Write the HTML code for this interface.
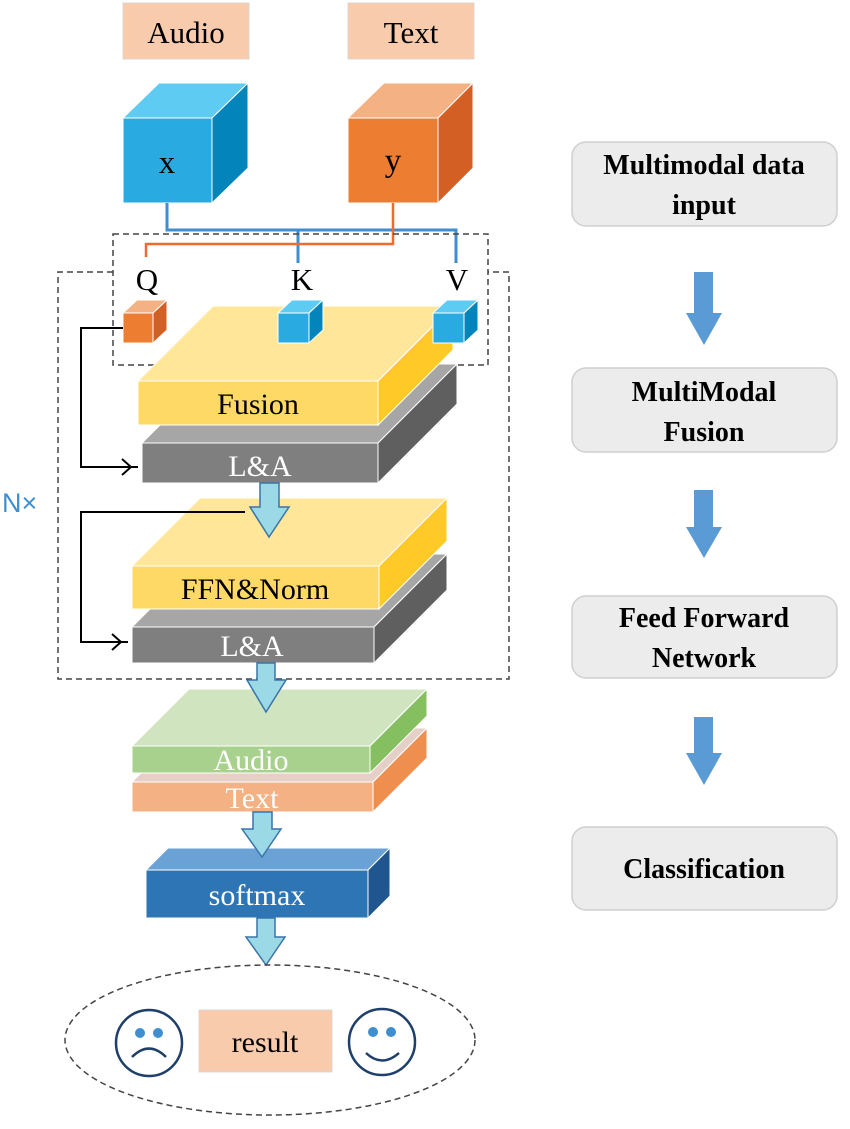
<!DOCTYPE html>
<html><head><meta charset="utf-8"><style>html,body{margin:0;padding:0;background:#fff}svg{display:block}</style></head><body>
<svg width="850" height="1129" viewBox="0 0 850 1129" xmlns="http://www.w3.org/2000/svg" font-family="Liberation Serif, serif">
<rect x="123" y="3" width="126" height="56" fill="#f8cbad" stroke="#e0d6d0"/>
<text x="186" y="43" font-size="31" text-anchor="middle">Audio</text>
<rect x="348" y="3" width="126" height="56" fill="#f8cbad" stroke="#e0d6d0"/>
<text x="411" y="43" font-size="31" text-anchor="middle">Text</text>

<g stroke="#fff" stroke-width="1">
<polygon points="123,118 159,83 248,83 212,118" fill="#5ecbf3"/>
<polygon points="212,118 248,83 248,168 212,203" fill="#0385bb"/>
<rect x="123" y="118" width="89" height="85" fill="#29abe2"/>
<polygon points="348,118 384,83 473,83 438,118" fill="#f4b183"/>
<polygon points="438,118 473,83 473,168 438,203" fill="#d35f24"/>
<rect x="348" y="118" width="90" height="85" fill="#ed7d31"/>
</g>
<text x="167" y="173" font-size="33" text-anchor="middle">x</text>
<text x="393" y="171" font-size="33" text-anchor="middle">y</text>

<polyline points="167,203 167,230 456,230 456,263" fill="none" stroke="#3e8ed0" stroke-width="3"/>
<line x1="298" y1="230" x2="298" y2="263" stroke="#3e8ed0" stroke-width="3"/>
<polyline points="393,203 393,244 146,244 146,257" fill="none" stroke="#ed6b2f" stroke-width="2.5"/>

<g fill="none" stroke="#444" stroke-width="1.5" stroke-dasharray="6,4">
<rect x="113" y="234" width="375" height="131"/>
<polyline points="113,272 58,272 58,679 509,679 509,272 488,272"/>
</g>
<text x="2" y="512" font-family="Liberation Sans, sans-serif" font-size="27" fill="#3e8ed0">N×</text>

<text x="147" y="290" font-size="31" text-anchor="middle">Q</text>
<text x="302" y="290" font-size="31" text-anchor="middle">K</text>
<text x="457" y="290" font-size="31" text-anchor="middle">V</text>

<g stroke="#fff" stroke-width="1">
<polygon points="142,443 221,364 457,364 378,443" fill="#a6a6a6"/>
<polygon points="378,443 457,364 457,404 378,483" fill="#5f5f5f"/>
<rect x="142" y="443" width="236" height="40" fill="#7f7f7f"/>
<polygon points="138,381 213,306 453,306 378,381" fill="#ffe699"/>
<polygon points="378,381 453,306 453,350 378,425" fill="#ffca28"/>
<rect x="138" y="381" width="240" height="44" fill="#ffd966"/>
<polygon points="123,313 137,300 167,300 153,313" fill="#f4b183"/>
<polygon points="153,313 167,300 167,330 153,343" fill="#d35f24"/>
<rect x="123" y="313" width="30" height="30" fill="#ed7d31"/>
<polygon points="278,313 292,300 323,300 309,313" fill="#5ecbf3"/>
<polygon points="309,313 323,300 323,330 309,343" fill="#0385bb"/>
<rect x="278" y="313" width="31" height="30" fill="#29abe2"/>
<polygon points="433,313 447,300 478,300 464,313" fill="#5ecbf3"/>
<polygon points="464,313 478,300 478,330 464,343" fill="#0385bb"/>
<rect x="433" y="313" width="31" height="30" fill="#29abe2"/>
</g>
<text x="258" y="414" font-size="30" text-anchor="middle">Fusion</text>
<text x="260" y="476" font-size="30" text-anchor="middle" fill="#fff">L&amp;A</text>

<polyline points="123,328 81,328 81,467 138,467" fill="none" stroke="#000" stroke-width="2"/>
<polyline points="122,459 131,467 122,475" fill="none" stroke="#000" stroke-width="2"/>

<g stroke="#fff" stroke-width="1">
<polygon points="132,627 205,554 447,554 374,627" fill="#a6a6a6"/>
<polygon points="374,627 447,554 447,590 374,663" fill="#5f5f5f"/>
<rect x="132" y="627" width="242" height="36" fill="#7f7f7f"/>
<polygon points="132,566 200,498 447,498 379,566" fill="#ffe699"/>
<polygon points="379,566 447,498 447,541 379,609" fill="#ffca28"/>
<rect x="132" y="566" width="247" height="43" fill="#ffd966"/>
</g>
<text x="255" y="599" font-size="30" text-anchor="middle">FFN&amp;Norm</text>
<text x="252" y="656" font-size="30" text-anchor="middle" fill="#fff">L&amp;A</text>

<polygon points="260,483 279,483 279,507 289,507 269,537 250,507 260,507" fill="#9cd9e6" stroke="#3a74a8" stroke-width="1.5"/>
<polyline points="245,512 81,512 81,642 128,642" fill="none" stroke="#000" stroke-width="2"/>
<polyline points="112,634 121,642 112,650" fill="none" stroke="#000" stroke-width="2"/>

<g stroke="#fff" stroke-width="1">
<polygon points="132,782 186,728 427,728 373,782" fill="#e6cfc6"/>
<polygon points="373,782 427,728 427,758 373,812" fill="#ee8f50"/>
<rect x="132" y="782" width="241" height="30" fill="#f4b183"/>
<polygon points="132,746 189,689 427,689 370,746" fill="#d0e4c0"/>
<polygon points="370,746 427,689 427,716 370,773" fill="#86bf60"/>
<rect x="132" y="746" width="238" height="27" fill="#a9d18e"/>
</g>
<text x="251" y="770" font-size="30" text-anchor="middle" fill="#fff">Audio</text>
<text x="252" y="808" font-size="30" text-anchor="middle" fill="#fff">Text</text>
<polygon points="257,663 275,663 275,680 286,680 266,712 247,680 257,680" fill="#9cd9e6" stroke="#3a74a8" stroke-width="1.5"/>

<g stroke="#fff" stroke-width="1">
<polygon points="146,870 168,848 390,848 368,870" fill="#6aa2d6"/>
<polygon points="368,870 390,848 390,896 368,918" fill="#1f5690"/>
<rect x="146" y="870" width="222" height="48" fill="#2e75b6"/>
</g>
<text x="257" y="905" font-size="30" text-anchor="middle" fill="#fff">softmax</text>
<polygon points="253,812 272,812 272,829 281,829 262,857 242,829 253,829" fill="#9cd9e6" stroke="#3a74a8" stroke-width="1.5"/>
<polygon points="257,918 275,918 275,937 285,937 266,965 246,937 257,937" fill="#9cd9e6" stroke="#3a74a8" stroke-width="1.5"/>

<ellipse cx="270" cy="1040" rx="205" ry="75" fill="none" stroke="#444" stroke-width="1.5" stroke-dasharray="6,4"/>
<rect x="199" y="1010" width="133" height="62" fill="#f8cbad" stroke="#e0d6d0"/>
<text x="265" y="1052" font-size="30" text-anchor="middle">result</text>
<g fill="none" stroke="#1f3f6b" stroke-width="2.5">
<circle cx="149" cy="1043" r="33"/>
<path d="M132,1057 Q149,1040 166,1057"/>
<circle cx="382" cy="1042" r="33"/>
<path d="M366,1053 Q382,1068 399,1053"/>
</g>
<g fill="#3e8ed0">
<circle cx="140" cy="1033" r="5"/><circle cx="158" cy="1033" r="5"/>
<circle cx="373" cy="1032" r="5"/><circle cx="391" cy="1032" r="5"/>
</g>

<g fill="#ececec" stroke="#cfcfcf" stroke-width="1.5">
<rect x="572" y="142" width="265" height="84" rx="14"/>
<rect x="572" y="368" width="265" height="84" rx="14"/>
<rect x="572" y="596" width="265" height="82" rx="14"/>
<rect x="572" y="827" width="265" height="83" rx="14"/>
</g>
<g font-size="28" font-weight="bold" text-anchor="middle">
<text x="704" y="174">Multimodal data</text>
<text x="704" y="214">input</text>
<text x="704" y="401">MultiModal</text>
<text x="704" y="441">Fusion</text>
<text x="704" y="627">Feed Forward</text>
<text x="704" y="667">Network</text>
<text x="704" y="878">Classification</text>
</g>
<g fill="#5b9bd5">
<polygon points="694,272 713,272 713,313 722,313 704,345 686,313 694,313"/>
<polygon points="694,490 713,490 713,527 722,527 704,558 686,527 694,527"/>
<polygon points="694,717 713,717 713,753 722,753 704,785 686,753 694,753"/>
</g>
</svg>
</body></html>
